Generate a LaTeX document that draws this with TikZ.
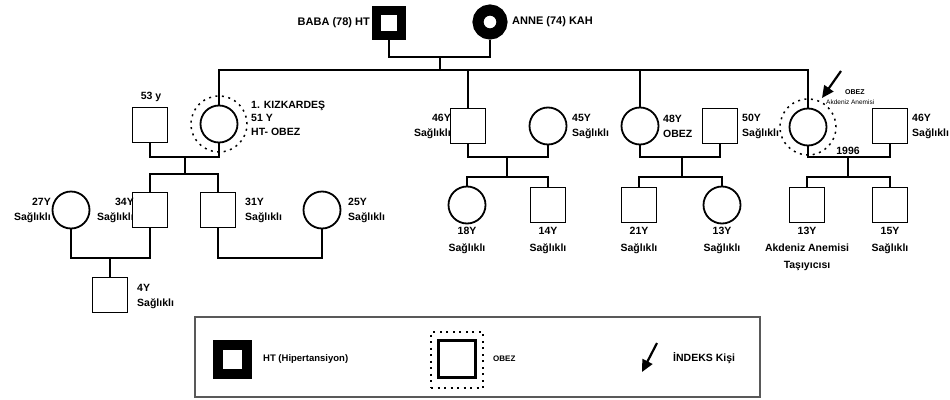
\documentclass[tikz,border=0pt]{standalone}
\usepackage{fontspec}
\setmainfont{Liberation Sans}
\usetikzlibrary{arrows.meta}
\begin{document}
\begin{tikzpicture}[x=1pt,y=-1pt,
  every node/.style={font=\fontsize{10.5}{15}\selectfont\bfseries, inner sep=0pt},
  male/.style={draw, rectangle, minimum size=35pt, line width=1.8pt},
  female/.style={draw, circle, minimum size=37pt, line width=1.8pt},
  htmale/.style={draw, rectangle, minimum size=25pt, line width=9pt},
  htfemale/.style={draw, circle, minimum size=24pt, line width=11pt},
  obezring/.style={draw, circle, minimum size=56pt, line width=1.5pt, dash pattern=on 2pt off 4.5pt},
  link/.style={line width=2pt},
  idxarrow/.style={line width=2.2pt, -{Triangle[length=12pt,width=11pt]}},
  lblbelow/.style={anchor=north, align=center, font=\fontsize{10.5}{17}\selectfont\bfseries},
  lblleft/.style={anchor=east, align=right},
  lblright/.style={anchor=west, align=left}
]
\useasboundingbox (0,0) rectangle (950,399);
\fill[white] (0,0) rectangle (950,399);

% generation I
\node[htmale] (baba) at (389,23) {};
\node[htfemale] (anne) at (490,22) {};
\node[anchor=east, font=\fontsize{11}{13}\selectfont\bfseries] (babal) at (370,23) {BABA (78) HT};
\node[anchor=west, font=\fontsize{11}{13}\selectfont\bfseries] (annel) at (512,22) {ANNE (74) KAH};
\coordinate (m1) at (440,57);
\coordinate (s1) at (440,70);
\draw[link] (baba.south) |- (m1) -| (anne.south);
\draw[link] (m1) -- (s1);

% generation II
\node[male] (h53) at (150,125) {};
\node (h53l) at (151,97) {53 y};
\node[female] (k1) at (219,124) {};
\node[obezring] (k1r) at (219,124) {};
\node[lblright, font=\fontsize{10.5}{13.5}\selectfont\bfseries] (k1l) at (251,118) {1. KIZKARDEŞ\\51 Y\\HT- OBEZ};
\node[male] (p46) at (468,126) {};
\node[lblleft] (p46l) at (451,126) {46Y\\Sağlıklı};
\node[female] (f45) at (548,126) {};
\node[lblright] (f45l) at (572,126) {45Y\\Sağlıklı};
\node[female] (f48) at (640,126) {};
\node[lblright] (f48l) at (663,126) {48Y\\OBEZ};
\node[male] (m50) at (720,126) {};
\node[lblright] (m50l) at (742,126) {50Y\\Sağlıklı};
\node[female] (idx) at (808,127) {};
\node[obezring] (idxr) at (808,127) {};
\node[male] (m46b) at (890,126) {};
\node[lblright] (m46bl) at (912,126) {46Y\\Sağlıklı};
\node[lblright, font=\fontsize{7}{8}\selectfont\bfseries] (idxl1) at (845,92) {OBEZ};
\node[lblright, font=\fontsize{6.5}{8}\selectfont] (idxl2) at (826,102) {Akdeniz Anemisi};
\coordinate (ia1) at (841,71);
\coordinate (ia2) at (822,98);
\draw[idxarrow] (ia1) -- (ia2);

\draw[link] (k1.north) |- (s1) -| (idx.north);
\draw[link] (p46.north) -- (p46.north |- s1);
\draw[link] (f48.north) -- (f48.north |- s1);

% generation III
\node[female] (f27) at (71,210) {};
\node[lblleft] (f27l) at (51,210) {27Y\\Sağlıklı};
\node[male] (m34) at (150,210) {};
\node[lblleft] (m34l) at (134,210) {34Y\\Sağlıklı};
\node[male] (m31) at (218,210) {};
\node[lblright] (m31l) at (245,210) {31Y\\Sağlıklı};
\node[female] (f25) at (322,210) {};
\node[lblright] (f25l) at (348,210) {25Y\\Sağlıklı};

\node[female] (f18) at (467,205) {};
\node[lblbelow] (f18l) at (467,227) {18Y\\Sağlıklı};
\node[male] (m14) at (548,205) {};
\node[lblbelow] (m14l) at (548,227) {14Y\\Sağlıklı};
\node[male] (m21) at (639,205) {};
\node[lblbelow] (m21l) at (639,227) {21Y\\Sağlıklı};
\node[female] (f13) at (722,205) {};
\node[lblbelow] (f13l) at (722,227) {13Y\\Sağlıklı};
\node[male] (m13) at (807,205) {};
\node[lblbelow] (m13l) at (807,227) {13Y\\Akdeniz Anemisi\\Taşıyıcısı};
\node[male] (m15) at (890,205) {};
\node[lblbelow] (m15l) at (890,227) {15Y\\Sağlıklı};

\coordinate (c2) at (185,157);
\coordinate (c2b) at (185,174);
\draw[link] (h53.south) |- (c2) -| (k1.south);
\draw[link] (c2) -- (c2b);
\draw[link] (m34.north) |- (c2b) -| (m31.north);

\coordinate (c3) at (507,157);
\coordinate (c3b) at (507,177);
\draw[link] (p46.south) |- (c3) -| (f45.south);
\draw[link] (c3) -- (c3b);
\draw[link] (f18.north) |- (c3b) -| (m14.north);

\coordinate (c4) at (682,157);
\coordinate (c4b) at (682,177);
\draw[link] (f48.south) |- (c4) -| (m50.south);
\draw[link] (c4) -- (c4b);
\draw[link] (m21.north) |- (c4b) -| (f13.north);

\coordinate (c5) at (848,157);
\coordinate (c5b) at (848,177);
\draw[link] (idx.south) |- (c5) -| (m46b.south);
\draw[link] (c5) -- (c5b);
\draw[link] (m13.north) |- (c5b) -| (m15.north);
\node[anchor=south] (yr) at (848,155) {1996};

% generation IV
\node[male] (m4) at (110,295) {};
\node[lblright] (m4l) at (137,296) {4Y\\Sağlıklı};
\coordinate (c6) at (110,258);
\coordinate (c7) at (270,258);
\draw[link] (f27.south) |- (c6) -| (m34.south);
\draw[link] (c6) -- (m4.north);
\draw[link] (m31.south) |- (c7) -| (f25.south);

% legend
\node[draw, line width=1.5pt, color=black!65, minimum width=565pt, minimum height=80pt] (legend) at (477.5,357) {};
\node[htmale, minimum size=29pt, line width=10pt] (lht) at (232,359) {};
\node[lblright, font=\fontsize{9.5}{11}\selectfont\bfseries] (lhtl) at (263,359) {HT (Hipertansiyon)};
\node[male, minimum size=37pt, line width=2.2pt] (lob) at (457,359) {};
\node[draw, line width=1.5pt, dash pattern=on 2pt off 4.5pt, minimum width=52pt, minimum height=56pt] (lobr) at (457,360) {};
\node[lblright, font=\fontsize{8}{10}\selectfont\bfseries] (lobl) at (493,359) {OBEZ};
\coordinate (la1) at (657,343);
\coordinate (la2) at (642,372);
\draw[idxarrow] (la1) -- (la2);
\node[lblright] (lidx) at (673,358) {İNDEKS Kişi};
\end{tikzpicture}
\end{document}
